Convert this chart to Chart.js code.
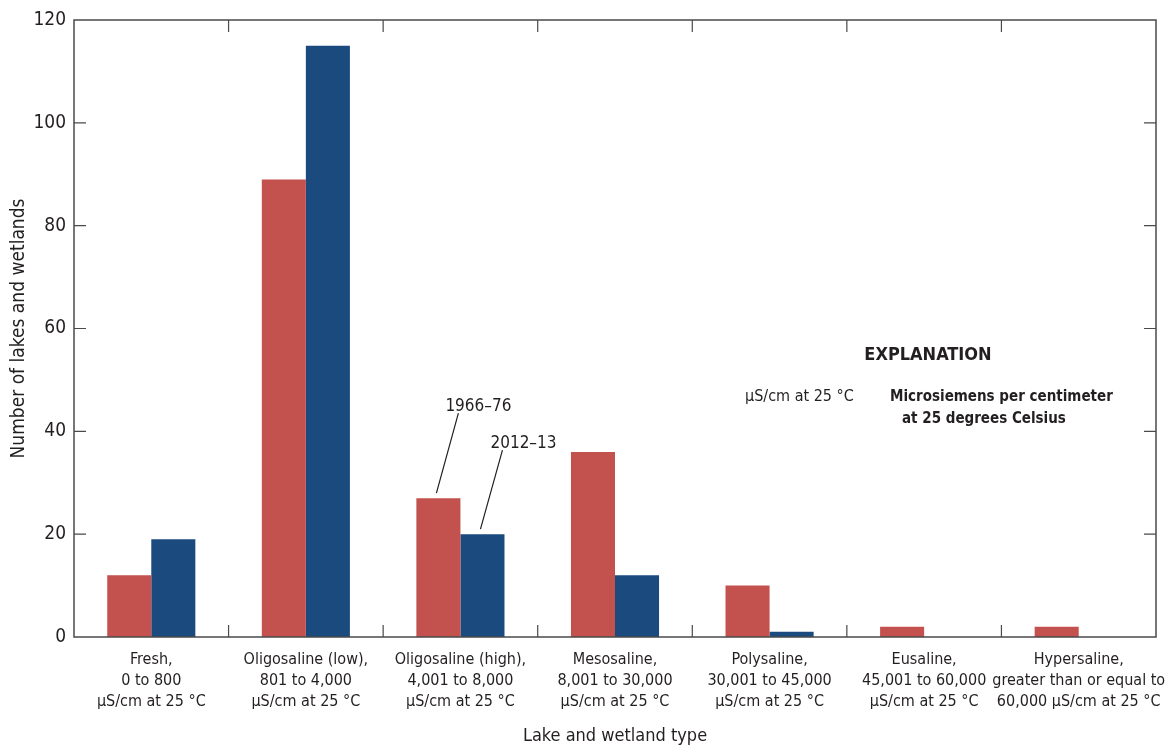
<!DOCTYPE html>
<html>
<head>
<meta charset="utf-8">
<script src="https://cdn.jsdelivr.net/npm/chart.js@4.4.1/dist/chart.umd.min.js"></script>
<style>
  html, body { margin: 0; padding: 0; background: #fff; }
  #wrap { width: 1168px; height: 747px; }
</style>
</head>
<body>
<div id="wrap"><canvas id="chart"></canvas></div>
<script>
const categories = [
  ["Fresh,", "0 to 800", "µS/cm at 25 °C"],
  ["Oligosaline (low),", "801 to 4,000", "µS/cm at 25 °C"],
  ["Oligosaline (high),", "4,001 to 8,000", "µS/cm at 25 °C"],
  ["Mesosaline,", "8,001 to 30,000", "µS/cm at 25 °C"],
  ["Polysaline,", "30,001 to 45,000", "µS/cm at 25 °C"],
  ["Eusaline,", "45,001 to 60,000", "µS/cm at 25 °C"],
  ["Hypersaline,", "greater than or equal to", "60,000 µS/cm at 25 °C"]
];
const period1 = "1966–76";
const period2 = "2012–13";
const counts1966 = [12, 89, 27, 36, 10, 2, 2];
const counts2012 = [19, 115, 20, 12, 1, 0, 0];
const yTicks = [0, 20, 40, 60, 80, 100, 120];

const FONT = "'DejaVu Sans Condensed', 'Liberation Sans Narrow', 'Roboto', sans-serif";
const INK = "#231f20";
const AXIS = "#4a4a4a";

// frame, inward ticks, period callouts and explanation box
const framePlugin = {
  id: "frame",
  afterDraw(chart) {
    const ctx = chart.ctx;
    const a = chart.chartArea;
    const x = chart.scales.x;
    const y = chart.scales.y;
    ctx.save();
    ctx.strokeStyle = AXIS;
    ctx.lineWidth = 1.5;
    ctx.strokeRect(a.left, a.top, a.right - a.left, a.bottom - a.top);

    // category boundaries, top and bottom
    ctx.lineWidth = 1.2;
    for (let i = 1; i < categories.length; i++) {
      const bx = (x.getPixelForValue(i - 1) + x.getPixelForValue(i)) / 2;
      ctx.beginPath();
      ctx.moveTo(bx, a.bottom); ctx.lineTo(bx, a.bottom - 12);
      ctx.moveTo(bx, a.top); ctx.lineTo(bx, a.top + 12);
      ctx.stroke();
    }
    // value ticks, left and right
    yTicks.forEach(v => {
      if (v === 0 || v === 120) return;
      const py = y.getPixelForValue(v);
      ctx.beginPath();
      ctx.moveTo(a.left, py); ctx.lineTo(a.left + 12, py);
      ctx.moveTo(a.right, py); ctx.lineTo(a.right - 12, py);
      ctx.stroke();
    });

    // callouts on the oligosaline (high) pair
    const m1 = chart.getDatasetMeta(0).data[2];
    const m2 = chart.getDatasetMeta(1).data[2];
    ctx.strokeStyle = INK;
    ctx.lineWidth = 1.2;
    ctx.beginPath();
    ctx.moveTo(m1.x - 2, m1.y - 5);
    ctx.lineTo(m1.x + 20, m1.y - 85);
    ctx.moveTo(m2.x - 2, m2.y - 5);
    ctx.lineTo(m2.x + 20, m2.y - 84);
    ctx.stroke();
    ctx.fillStyle = INK;
    ctx.font = "17px " + FONT;
    ctx.textAlign = "center";
    ctx.textBaseline = "alphabetic";
    ctx.fillText(period1, m1.x + 40, m1.y - 87);
    ctx.fillText(period2, m2.x + 41, m2.y - 86);

    // explanation
    ctx.font = "bold 18px " + FONT;
    ctx.fillText("EXPLANATION", 928, 360);
    ctx.textAlign = "left";
    ctx.font = "16px " + FONT;
    ctx.fillText("µS/cm at 25 °C", 745, 401);
    ctx.font = "bold 15px " + FONT;
    ctx.fillText("Microsiemens per centimeter", 890, 401);
    ctx.fillText("at 25 degrees Celsius", 902, 423);
    ctx.restore();
  }
};

new Chart(document.getElementById("chart"), {
  type: "bar",
  data: {
    labels: categories,
    datasets: [
      { label: period1, data: counts1966, backgroundColor: "#c3514e", borderWidth: 0 },
      { label: period2, data: counts2012, backgroundColor: "#1a4a7e", borderWidth: 0 }
    ]
  },
  options: {
    responsive: true,
    maintainAspectRatio: false,
    animation: false,
    layout: { padding: { top: 20, right: 12, left: 0, bottom: 0 } },
    plugins: { legend: { display: false }, tooltip: { enabled: false } },
    datasets: { bar: { categoryPercentage: 0.57, barPercentage: 1.0 } },
    scales: {
      x: {
        grid: { display: false, drawTicks: false },
        border: { display: false },
        ticks: {
          color: INK,
          font: { family: FONT, size: 16, lineHeight: 1.31 },
          padding: 12,
          maxRotation: 0,
          autoSkip: false
        },
        title: {
          display: true,
          text: "Lake and wetland type",
          color: INK,
          font: { family: FONT, size: 18 },
          padding: { top: 8, bottom: 0 }
        },
        afterFit(s) { s.height = 110; s.paddingLeft = 0; s.paddingRight = 0; }
      },
      y: {
        min: 0,
        max: 120,
        afterBuildTicks(s) { s.ticks = yTicks.map(v => ({ value: v })); },
        grid: { display: false, drawTicks: false },
        border: { display: false },
        ticks: {
          color: INK,
          font: { family: FONT, size: 19 },
          padding: 8
        },
        title: {
          display: true,
          text: "Number of lakes and wetlands",
          color: INK,
          font: { family: FONT, size: 19 },
          padding: { top: 8, bottom: 6 }
        },
        afterFit(s) { s.width = 74; s.paddingTop = 0; s.paddingBottom = 0; }
      }
    }
  },
  plugins: [framePlugin]
});
</script>
</body>
</html>
